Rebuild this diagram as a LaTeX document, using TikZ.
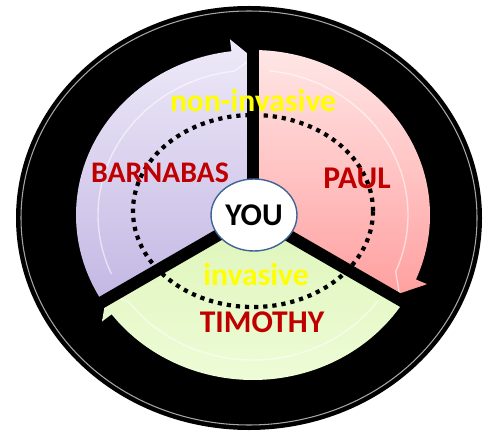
\documentclass[tikz,border=0pt]{standalone}
\usepackage{fontspec}
\setmainfont{Carlito}
\usetikzlibrary{shapes.geometric}
\definecolor{namered}{RGB}{192,0,0}
\definecolor{noteyellow}{RGB}{255,255,0}
\definecolor{youline}{RGB}{65,100,150}

\begin{document}
\begin{tikzpicture}[x=0.02cm, y=0.02cm,
	spoke/.style={line width=0.24cm, black},
	faint/.style={white, opacity=0.55, line width=0.8pt},
	person/.style={text=namered, font=\bfseries\fontsize{18}{21}\selectfont},
	note/.style={text=noteyellow, font=\bfseries\fontsize{18}{21}\selectfont},
	hub/.style={ellipse, draw=youline, line width=0.8pt, fill=white, minimum width=1.64cm, minimum height=1.44cm, inner sep=1pt, font=\bfseries\fontsize{18}{21}\selectfont}]

	\useasboundingbox (0,0) rectangle (493,433);

	% Black disc
	\fill[black] (249,215) ellipse [x radius=233, y radius=212];
	\draw[gray!70, line width=0.6pt] (249,215) ellipse [x radius=228, y radius=207];

	\coordinate (C) at (253,218);

	% Cycle arrows
	\begin{scope}[shift={(C)}]
		\path[top color={rgb,255:red,238;green,234;blue,248}, bottom color={rgb,255:red,196;green,184;blue,228}]
			(0,0) -- (210:177 and 165) arc[start angle=210, end angle=97, x radius=177, y radius=165]
			-- (97:189 and 177) -- (90:169 and 157) -- cycle;
		\path[top color={rgb,255:red,255;green,230;blue,230}, bottom color={rgb,255:red,255;green,160;blue,160}]
			(0,0) -- (90:177 and 165) arc[start angle=90, end angle=-23, x radius=177, y radius=165]
			-- (-23:189 and 177) -- (-30:169 and 157) -- cycle;
		\path[top color={rgb,255:red,222;green,245;blue,185}, bottom color={rgb,255:red,238;green,252;blue,215}]
			(0,0) -- (-30:177 and 165) arc[start angle=-30, end angle=-143, x radius=177, y radius=165]
			-- (-143:189 and 177) -- (-150:169 and 157) -- cycle;
		% inner outlines
		\draw[faint] (204:155 and 145) arc[start angle=204, end angle=97, x radius=155, y radius=145] -- (90:169 and 157);
		\draw[faint] (84:155 and 145) arc[start angle=84, end angle=-23, x radius=155, y radius=145] -- (-30:169 and 157);
		\draw[faint] (-36:155 and 145) arc[start angle=-36, end angle=-143, x radius=155, y radius=145] -- (-150:169 and 157);
	\end{scope}

	% Dotted ring
	\draw[line width=2.4pt, dash pattern=on 2.4pt off 2.8pt] (253,222) ellipse [x radius=120, y radius=96];

	% Spokes
	\draw[spoke] (C) -- ++(90:200);
	\draw[spoke] (C) -- ++(210:210);
	\draw[spoke] (C) -- ++(-30:210);

	% Hub
	\node[hub] (you) at (254,218) {YOU};

	% Labels
	\node[note] (noninv) at (253,332) {non-invasive};
	\node[person, font=\bfseries\fontsize{17}{20}\selectfont] (barnabas) at (160,260) {BARNABAS};
	\node[person] (paul) at (357,255) {PAUL};
	\node[note] (inv) at (256,158) {invasive};
	\node[person] (timothy) at (262,111) {TIMOTHY};
\end{tikzpicture}
\end{document}
